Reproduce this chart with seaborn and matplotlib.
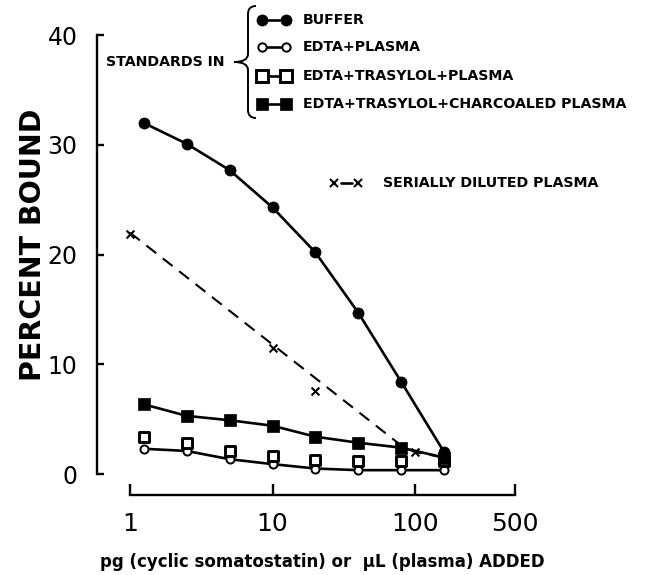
import matplotlib
matplotlib.use("Agg")
import matplotlib.pyplot as plt
import seaborn as sns
from matplotlib.lines import Line2D
from matplotlib.path import Path
from matplotlib.patches import PathPatch

# Standards: pg of cyclic somatostatin added (two-fold serial dilutions)
dose_pg = [1.25, 2.5, 5, 10, 20, 40, 80, 160]
buffer_pb = [32.0, 30.1, 27.7, 24.3, 20.2, 14.7, 8.4, 2.0]
edta_plasma_pb = [2.3, 2.1, 1.35, 0.9, 0.5, 0.35, 0.35, 0.35]
edta_trasylol_plasma_pb = [3.4, 2.85, 2.1, 1.6, 1.3, 1.2, 1.15, 1.15]
edta_trasylol_charcoal_pb = [6.35, 5.3, 4.9, 4.4, 3.4, 2.85, 2.4, 1.5]

# Serially diluted plasma: uL plasma added
dilution_ul = [1, 10, 20, 100]
dilution_pb = [21.9, 11.5, 7.6, 2.0]
dilution_fit_ul = [1, 80, 100, 160]
dilution_fit_pb = [22.0, 2.6, 2.0, 1.5]

x_ticks = [1, 10, 100, 500]
x_tick_labels = ["1", "10", "100", "500"]
y_ticks = [0, 10, 20, 30, 40]
y_tick_labels = ["0", "10", "20", "30", "40"]

legend_labels = ["BUFFER", "EDTA+PLASMA", "EDTA+TRASYLOL+PLASMA",
                 "EDTA+TRASYLOL+CHARCOALED PLASMA"]

sns.set_theme(style="white")
plt.rcParams["font.family"] = ["DejaVu Sans"]

W, H = 655, 575
fig = plt.figure(figsize=(W / 100, H / 100), dpi=100)


def fx(px):
    return px / W


def fy(py):
    return 1 - py / H


ax = fig.add_axes([fx(97), fy(495), fx(600) - fx(97), fy(30) - fy(495)])
ax.set_xscale("log")
ax.set_xlim(10 ** ((97 - 130) / 142.5), 10 ** ((600 - 130) / 142.5))
ax.set_ylim((474 - 495) / 10.97, (474 - 30) / 10.97)

K = "black"
LW = 1.9
# curves
sns.lineplot(x=dilution_fit_ul, y=dilution_fit_pb, ax=ax, color=K, lw=1.5,
             linestyle=(0, (6, 4)), sort=False, estimator=None, zorder=2)
sns.lineplot(x=dose_pg, y=edta_plasma_pb, ax=ax, color=K, lw=LW,
             sort=False, estimator=None, zorder=2)
sns.lineplot(x=dose_pg, y=edta_trasylol_charcoal_pb, ax=ax, color=K, lw=LW,
             sort=False, estimator=None, zorder=2)
sns.lineplot(x=dose_pg, y=buffer_pb, ax=ax, color=K, lw=LW,
             sort=False, estimator=None, zorder=2)

# points
sns.scatterplot(x=dilution_ul, y=dilution_pb, ax=ax, marker="x", s=32,
                color=K, linewidth=1.5, zorder=4)
sns.scatterplot(x=dose_pg, y=edta_plasma_pb, ax=ax, marker="o", s=34,
                facecolor="white", edgecolor=K, linewidth=1.4, zorder=4)
sns.scatterplot(x=dose_pg, y=edta_trasylol_plasma_pb, ax=ax, marker="s",
                s=58, facecolor="white", edgecolor=K, linewidth=2.1, zorder=5)
sns.scatterplot(x=dose_pg, y=edta_trasylol_charcoal_pb, ax=ax, marker="s",
                s=66, color=K, edgecolor=K, linewidth=0.5, zorder=5)
sns.scatterplot(x=dose_pg, y=buffer_pb, ax=ax, marker="o", s=64,
                color=K, edgecolor=K, linewidth=0.5, zorder=6)

# axes styling
for side in ("top", "right"):
    ax.spines[side].set_visible(False)
ax.spines["left"].set_bounds(0, 40)
ax.spines["bottom"].set_bounds(1, 500)
for side in ("left", "bottom"):
    ax.spines[side].set_linewidth(1.7)
    ax.spines[side].set_color(K)

ax.set_xticks(x_ticks)
ax.set_xticklabels(x_tick_labels)
ax.xaxis.set_minor_locator(matplotlib.ticker.NullLocator())
ax.set_yticks(y_ticks)
ax.set_yticklabels(y_tick_labels)
ax.tick_params(axis="x", direction="in", length=8, width=1.7, pad=12,
               labelsize=18, colors=K, bottom=True)
ax.tick_params(axis="y", direction="in", length=5, width=1.7, pad=14,
               labelsize=17, colors=K, left=True)
ax.set_xlabel("")
ax.set_ylabel("")

# axis titles
fig.text(fx(33), fy(245), "PERCENT BOUND", rotation=90, ha="center",
         va="center", fontsize=20.5, fontweight="bold", color=K)
fig.text(fx(322), fy(562), "pg (cyclic somatostatin) or  \u03bcL (plasma) ADDED",
         ha="center", va="center", fontsize=12, fontweight="bold", color=K)

# key
rows_y = [20, 47, 76, 104]
styles = [
    dict(marker="o", ms=8, mfc=K, mec=K, mew=0.5),
    dict(marker="o", ms=6, mfc="white", mec=K, mew=1.4),
    dict(marker="s", ms=8, mfc="white", mec=K, mew=2.1),
    dict(marker="s", ms=8.5, mfc=K, mec=K, mew=0.5),
]
for ry, st, lab in zip(rows_y, styles, legend_labels):
    fig.add_artist(Line2D([fx(262), fx(286)], [fy(ry), fy(ry)], color=K,
                          lw=LW, transform=fig.transFigure, **st))
    fig.text(fx(303), fy(ry), lab, ha="left", va="center", fontsize=10.2,
             fontweight="bold", color=K)

fig.text(fx(106), fy(62), "STANDARDS IN", ha="left", va="center",
         fontsize=10.2, fontweight="bold", color=K)

brace = [(256, 6), (248, 6), (248, 14), (248, 54), (248, 62), (234, 62),
         (248, 62), (248, 70), (248, 110), (248, 118), (256, 118)]
codes = [Path.MOVETO, Path.CURVE3, Path.CURVE3, Path.LINETO, Path.CURVE3,
         Path.CURVE3, Path.CURVE3, Path.CURVE3, Path.LINETO, Path.CURVE3,
         Path.CURVE3]
verts = [(fx(px), fy(py)) for px, py in brace]
fig.add_artist(PathPatch(Path(verts, codes), fill=False, lw=1.4, color=K,
                         transform=fig.transFigure))

# serially diluted plasma key
fig.add_artist(Line2D([fx(341), fx(352)], [fy(183), fy(183)], color=K,
                      lw=LW, transform=fig.transFigure))
fig.add_artist(Line2D([fx(334), fx(358)], [fy(183), fy(183)], color=K,
                      lw=0, marker="x", ms=6, mew=1.5,
                      transform=fig.transFigure))
fig.text(fx(383), fy(183), "SERIALLY DILUTED PLASMA", ha="left",
         va="center", fontsize=10.2, fontweight="bold", color=K)

fig.savefig("out.png", dpi=100, facecolor="white")
